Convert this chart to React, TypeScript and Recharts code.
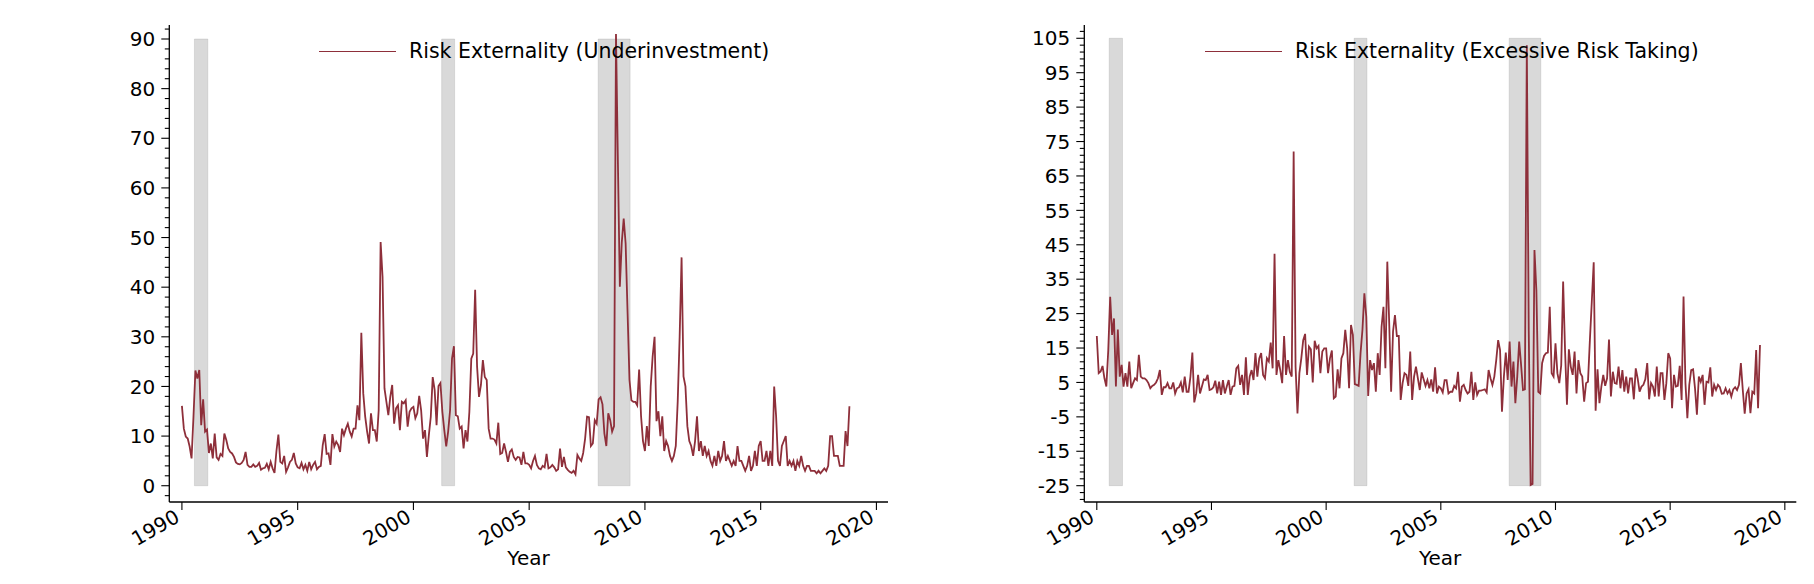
import React from "react"
import { LineChart, Line, XAxis, YAxis, ReferenceArea } from "recharts"

// monthly series, first point = Jan 1990
const START_YEAR = 1990

const underinvestment = [
  16.1, 11.5, 9.9, 9.5, 7.9, 5.5, 14.0, 23.2, 21.6, 23.3,
  12.2, 17.4, 10.9, 11.3, 6.6, 8.5, 5.5, 10.5, 5.7, 5.2,
  6.4, 6.0, 10.5, 9.2, 7.5, 6.8, 6.5, 5.8, 4.7, 4.4,
  4.3, 4.6, 5.2, 6.8, 4.2, 3.8, 3.8, 4.3, 3.8, 4.0,
  4.6, 3.2, 3.5, 3.6, 4.4, 3.3, 4.8, 3.5, 2.6, 7.0,
  10.3, 4.8, 4.5, 6.0, 2.8, 3.7, 4.8, 5.2, 6.6, 4.5,
  3.7, 3.5, 4.6, 3.3, 4.2, 3.0, 4.8, 3.3, 4.2, 4.8,
  3.3, 3.8, 4.0, 8.2, 10.4, 6.4, 6.5, 4.2, 10.4, 7.9,
  8.9, 8.2, 6.8, 11.5, 10.2, 11.5, 12.5, 10.9, 9.9, 11.5,
  11.5, 16.2, 13.2, 30.8, 18.6, 13.9, 10.9, 8.5, 14.6, 11.2,
  11.2, 8.9, 15.2, 49.1, 42.1, 19.6, 16.9, 14.2, 17.9, 20.3,
  12.5, 15.6, 16.2, 11.2, 16.9, 16.6, 17.2, 11.9, 14.9, 15.6,
  15.9, 13.6, 14.6, 18.1, 15.2, 9.5, 11.2, 5.8, 10.2, 13.9,
  21.9, 19.3, 12.2, 20.1, 20.7, 14.9, 11.2, 7.9, 10.9, 15.2,
  25.6, 28.1, 14.2, 14.0, 11.5, 11.9, 7.5, 11.2, 8.9, 14.9,
  25.6, 26.6, 39.5, 24.0, 17.9, 20.3, 25.3, 21.9, 21.3, 11.5,
  9.5, 9.5, 9.3, 8.5, 12.7, 6.4, 6.6, 8.5, 6.8, 4.8,
  6.8, 7.3, 5.8, 5.2, 5.8, 5.7, 4.2, 6.8, 4.5, 4.5,
  4.2, 3.5, 5.0, 6.0, 4.2, 3.5, 3.3, 4.0, 3.7, 6.4,
  3.5, 3.7, 4.2, 3.7, 3.0, 3.3, 7.5, 3.8, 5.8, 3.7,
  3.2, 2.8, 2.6, 3.0, 2.3, 6.2, 5.5, 5.0, 6.6, 9.5,
  13.9, 13.8, 8.0, 8.5, 13.2, 12.5, 17.4, 17.8, 16.4, 10.5,
  8.0, 14.6, 13.2, 10.9, 12.0, 91.0, 65.0, 40.1, 49.0, 53.8,
  48.8, 35.0, 21.3, 17.2, 16.9, 16.9, 16.2, 23.4, 14, 9,
  7, 12, 8, 20, 26, 30, 13, 15, 10, 14,
  7, 9, 8, 6, 5, 6, 8, 17, 30, 46,
  22, 20, 12, 9, 8, 6, 9, 14, 7, 9,
  6, 8, 6, 7, 5, 4, 6, 4, 7, 5,
  6, 9, 5, 6, 5, 4, 5, 4, 8, 5,
  5, 4, 3, 4, 6, 3, 4, 7, 4, 8,
  9, 5, 5, 7, 4, 7, 4, 20, 14, 5,
  4, 8, 9, 10, 4, 5, 4, 5, 3, 5,
  4, 6, 4, 3, 4, 4, 3, 3, 3, 2.5,
  3, 2.5, 3, 3.5, 3, 4, 10, 10, 6, 6,
  6, 4, 4, 4, 11, 8, 16,
]

const excessiveRiskTaking = [
  18.5, 7.7, 8.2, 9.8, 6.2, 3.8, 14.4, 29.9, 18.8, 23.6,
  3.8, 20.4, 6.7, 10.1, 3.8, 7.7, 3.8, 11.1, 3.3, 4.8,
  6.2, 5.7, 13.0, 6.7, 6.2, 6.2, 5.7, 4.8, 3.3, 4.0,
  4.3, 5.0, 6.2, 8.6, 1.4, 3.6, 3.6, 4.8, 3.3, 3.3,
  5.0, 1.8, 3.3, 3.6, 5.0, 2.1, 6.7, 2.3, 2.3, 6.7,
  13.7, -0.8, 1.8, 7.2, 1.8, 3.8, 5.9, 5.7, 7.2, 2.8,
  3.0, 3.6, 5.5, 1.8, 5.2, 1.4, 5.7, 1.8, 3.8, 5.7,
  1.4, 3.8, 4.0, 9.1, 9.8, 4.3, 7.2, 1.4, 12.3, 1.4,
  6.7, 8.6, 5.7, 13.5, 6.7, 12.0, 13.5, 7.2, 6.2, 12.0,
  11.1, 16.6, 9.1, 42.4, 7.2, 11.5, 8.6, 4.8, 18.5, 7.2,
  11.5, 8.0, 6.7, 72.1, 9.6, -4.0, 7.7, 12.0, 17.3, 19.1,
  7.2, 15.4, 14.6, 5.0, 17.1, 14.9, 15.6, 7.7, 14.0, 14.9,
  14.9, 7.7, 12.0, 14.3, 0.4, 0.9, 8.8, 3.3, 12.0, 13.5,
  20.3, 14.9, 3.3, 21.7, 18.8, 4.5, 4.3, 4.0, 13.5, 20.3,
  30.9, 24.1, 1.1, 11.5, 8.6, 10.6, 2.3, 13.5, 7.2, 21.2,
  27.0, 9.1, 40.1, 22.2, 2.3, 19.8, 24.6, 18.5, 18.5, -0.1,
  4.8, 7.7, 7.2, 4.0, 14.0, -0.1, 6.7, 9.6, 6.2, 2.8,
  7.9, 5.9, 4.0, 5.7, 3.3, 5.9, 2.3, 9.4, 1.8, 3.8,
  3.3, 2.1, 5.7, 5.7, 1.8, 2.3, 2.3, 4.0, 3.3, 8.1,
  -0.6, 3.8, 4.3, 2.8, 1.8, 2.3, 8.1, -0.1, 5.0, 1.4,
  2.6, 2.6, 2.8, 3.0, 2.1, 8.6, 6.2, 4.3, 6.7, 11.5,
  17.3, 14.4, -3.5, 6.7, 13.7, 5.7, 16.9, 3.8, 11.1, -1.0,
  6.7, 16.9, 10.1, 2.8, 3.0, 103.0, 20.0, -24.8, -24.5, 43.5,
  31.8, 2.3, 1.8, 10.6, 12.7, 13.5, 13.7, 27.0, 7.7, 6.7,
  16.4, 7.7, 4.8, 10.0, 34.3, 14.4, -1.5, 14.6, 9.6, 7.2,
  14.0, 1.8, 11.5, 7.7, 6.7, -0.6, 4.8, 5.2, 17.3, 28.5,
  39.9, -3.2, 8.8, -1.0, 3.8, 7.2, 4.0, 6.2, 17.5, 0.9,
  8.1, 4.8, 4.6, 9.6, 3.3, 8.6, 2.3, 6.7, 1.8, 6.2,
  6.2, 0.1, 9.1, 6.2, 2.3, 3.8, 4.3, 5.9, 10.6, 0.1,
  4.8, 3.8, 0.9, 9.6, 0.9, 7.7, 7.7, -0.1, 4.8, 13.5,
  12.0, -2.5, 7.2, 3.8, 4.0, 9.8, -0.1, 30.0, 4.8, -5.4,
  4.3, 8.6, 8.8, 3.3, -4.4, 6.7, 5.2, 7.2, -1.5, 5.2,
  5.0, 9.4, 0.9, 4.3, 2.8, 4.3, 3.6, 1.7, 1.8, 3.3,
  1.8, 2.8, 0.9, 3.0, 3.6, 2.8, 4.3, 10.6, 2.8, -4.1,
  1.8, 3.0, -3.9, 2.3, 1.8, 14.4, -2.5, 15.9,
]

// NBER recessions, as decimal years
const recessions = [
  [1990.54, 1991.12],
  [2001.22, 2001.78],
  [2007.98, 2009.36],
]

const yearTicks = [1990, 1995, 2000, 2005, 2010, 2015, 2020]
const leftMajor = [0, 10, 20, 30, 40, 50, 60, 70, 80, 90]
const rightMajor = [-25, -15, -5, 5, 15, 25, 35, 45, 55, 65, 75, 85, 95, 105]

const X_DOMAIN = [1989.455, 2020.5]
const LINE_COLOR = "#8e2f3a"
const FONT = "'DejaVu Sans', sans-serif"
const FS = 20

function toSeries(values: number[]) {
  return values.map((v, i) => ({ t: START_YEAR + i / 12, v }))
}

function withMinors(major: number[], lo: number, hi: number) {
  const out: number[] = []
  const start = major[0] - 2 * Math.floor((major[0] - lo) / 2)
  for (let v = start; v <= hi; v += 2) out.push(Math.round(v * 10) / 10)
  return out
}

function YTick(props: any) {
  const { x, y, payload, majors } = props
  const major = majors.includes(payload.value)
  const len = major ? 8 : 4.5
  return (
    <g>
      <line x1={x - len} x2={x} y1={y} y2={y} stroke="#000" strokeWidth={1.1} />
      {major && (
        <text x={x - len - 6} y={y} dy="0.36em" textAnchor="end" fontSize={FS} fontFamily={FONT} fill="#000">
          {payload.value}
        </text>
      )}
    </g>
  )
}

function XTick(props: any) {
  const { x, y, payload } = props
  const tx = x - 1
  const ty = y + 19
  return (
    <g>
      <line x1={x} x2={x} y1={y} y2={y + 8} stroke="#000" strokeWidth={1.1} />
      <text
        x={tx}
        y={ty}
        textAnchor="end"
        fontSize={FS}
        fontFamily={FONT}
        fill="#000"
        transform={`rotate(-30, ${tx}, ${ty})`}
      >
        {payload.value}
      </text>
    </g>
  )
}

interface PanelProps {
  left: number
  width: number
  marginRight: number
  values: number[]
  yDomain: number[]
  majors: number[]
  shadeLo: number
  shadeHi: number
  legend: string
  legendLineX: number
}

function Panel({ left, width, marginRight, values, yDomain, majors, shadeLo, shadeHi, legend, legendLineX }: PanelProps) {
  const data = toSeries(values)
  const ticks = withMinors(majors, yDomain[0], yDomain[1])
  return (
    <div style={{ position: "absolute", left, top: 0, width, height: 584 }}>
      <LineChart width={width} height={584} data={data} margin={{ top: 25, right: marginRight, bottom: 42, left: 109.3 }}>
        {recessions.map(([a, b]) => (
          <ReferenceArea
            key={a}
            x1={a}
            x2={b}
            y1={shadeLo}
            y2={shadeHi}
            fill="#808080"
            fillOpacity={0.3}
            stroke="#808080"
            strokeOpacity={0.2}
            ifOverflow="visible"
          />
        ))}
        <XAxis
          dataKey="t"
          type="number"
          domain={X_DOMAIN}
          ticks={yearTicks}
          interval={0}
          allowDataOverflow
          height={40}
          tickSize={0}
          tickMargin={0}
          tickLine={false}
          axisLine={{ stroke: "#000", strokeWidth: 1.3 }}
          tick={<XTick />}
        />
        <YAxis
          type="number"
          domain={yDomain}
          ticks={ticks}
          interval={0}
          allowDataOverflow
          width={60}
          tickSize={0}
          tickMargin={0}
          tickLine={false}
          axisLine={{ stroke: "#000", strokeWidth: 1.3 }}
          tick={<YTick majors={majors} />}
        />
        <Line
          type="linear"
          dataKey="v"
          stroke={LINE_COLOR}
          strokeWidth={1.8}
          dot={false}
          activeDot={false}
          isAnimationActive={false}
        />
      </LineChart>
      <div style={{ position: "absolute", left: legendLineX, top: 51, width: 77, height: 0, borderTop: `1.8px solid ${LINE_COLOR}` }} />
      <div style={{ position: "absolute", left: legendLineX + 90, top: 39, fontSize: 20.5, fontFamily: FONT, color: "#000", whiteSpace: "nowrap", lineHeight: "24px" }}>
        {legend}
      </div>
      <div style={{ position: "absolute", left: 169, width: width - 169 - marginRight, top: 546, textAlign: "center", fontSize: FS, fontFamily: FONT, color: "#000", lineHeight: "24px" }}>
        Year
      </div>
    </div>
  )
}

export default function App() {
  return (
    <div style={{ position: "absolute", left: 0, top: 0, width: 1814, height: 584, background: "#fff", overflow: "hidden" }}>
      <Panel
        left={0}
        width={900}
        marginRight={12}
        values={underinvestment}
        yDomain={[-3.28, 92.82]}
        majors={leftMajor}
        shadeLo={0}
        shadeHi={90}
        legend="Risk Externality (Underinvestment)"
        legendLineX={319}
      />
      <Panel
        left={915}
        width={899}
        marginRight={17.7}
        values={excessiveRiskTaking}
        yDomain={[-29.74, 108.86]}
        majors={rightMajor}
        shadeLo={-25}
        shadeHi={105}
        legend="Risk Externality (Excessive Risk Taking)"
        legendLineX={290}
      />
    </div>
  )
}
